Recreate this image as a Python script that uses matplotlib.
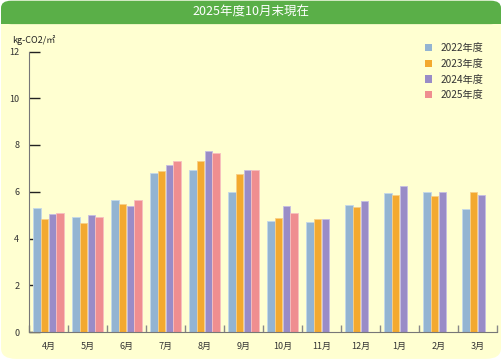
import numpy as np
import matplotlib.pyplot as plt
from matplotlib.patches import FancyBboxPatch, Rectangle

plt.rcParams['font.family'] = ['Noto Sans CJK JP', 'DejaVu Sans']

months = ["4月", "5月", "6月", "7月", "8月", "9月", "10月", "11月", "12月", "1月", "2月", "3月"]
years = ["2022年度", "2023年度", "2024年度", "2025年度"]
v2022 = [5.30, 4.93, 5.66, 6.81, 6.94, 6.00, 4.76, 4.69, 5.43, 5.96, 6.00, 5.27]
v2023 = [4.82, 4.65, 5.47, 6.90, 7.33, 6.76, 4.89, 4.83, 5.33, 5.84, 5.83, 5.99]
v2024 = [5.06, 5.00, 5.39, 7.16, 7.73, 6.93, 5.37, 4.82, 5.62, 6.23, 5.99, 5.87]
v2025 = [5.10, 4.90, 5.65, 7.33, 7.67, 6.91, 5.10, np.nan, np.nan, np.nan, np.nan, np.nan]
colors = ["#93b4d2", "#f3a92f", "#998cc7", "#ef8e90"]
edges = ["#c4d8ea", "#f8cf86", "#c6bde2", "#f6c0c0"]

BG = "#ffffd1"
GREEN = "#5aaf48"

fig = plt.figure(figsize=(5.02, 3.6), dpi=100)
fig.patch.set_facecolor("white")

# cream panel with rounded corners + green header
fig.patches.append(FancyBboxPatch((0.002, 0.003), 0.996, 0.995, boxstyle="round,pad=0,rounding_size=0.03",
                                  transform=fig.transFigure, facecolor=BG, edgecolor="none", zorder=-3))
fig.patches.append(FancyBboxPatch((0.002, 0.933), 0.996, 0.065, boxstyle="round,pad=0,rounding_size=0.02",
                                  transform=fig.transFigure, facecolor=GREEN, edgecolor="none", zorder=-2))
fig.patches.append(Rectangle((0.002, 0.933), 0.996, 0.02, transform=fig.transFigure,
                             facecolor=GREEN, edgecolor="none", zorder=-2))
fig.text(0.5, 0.966, "2025年度10月末現在", color="white", fontsize=9, ha="center", va="center")

ax = fig.add_axes([29 / 502, 28 / 360, 468 / 502, 280.5 / 360])
ax.set_facecolor("none")

x = np.arange(len(months))
w = 0.19
step = 0.195
series = [v2022, v2023, v2024, v2025]
for i, vals in enumerate(series):
    ax.bar(x - 1.5 * step + i * step, vals, width=w, color=colors[i],
           edgecolor=edges[i], linewidth=0.6, label=years[i], zorder=2)

ax.set_xlim(-0.5, 11.5)
ax.set_ylim(0, 12)
ax.set_yticks(range(0, 13, 2))
ax.tick_params(axis="y", direction="in", length=8, width=1, color="#222222",
               labelsize=6.5, pad=7, labelcolor="#333333")
ax.set_xticks(x)
ax.set_xticklabels(months)
ax.tick_params(axis="x", length=0, labelsize=6.5, pad=7, labelcolor="#333333")
ax.set_xticks(np.arange(-0.5, 12, 1), minor=True)
ax.tick_params(axis="x", which="minor", direction="in", length=5, width=1, color="#888888")

for s in ["top", "right"]:
    ax.spines[s].set_visible(False)
ax.spines["left"].set_color("#777777")
ax.spines["bottom"].set_color("#777777")

fig.text(12 / 502, 1 - 40 / 360, "kg-CO2/㎡", fontsize=6.5, va="center", ha="left", color="#222222")

leg = ax.legend(loc="upper left", bbox_to_anchor=((425 - 29) / 468, 1.029), frameon=False, fontsize=7.3,
                handlelength=0.7, handleheight=0.7, handletextpad=0.8, labelspacing=0.55,
                borderaxespad=0, borderpad=0)
for t in leg.get_texts():
    t.set_color("#333333")
for h in leg.legend_handles:
    h.set_edgecolor("none")

fig.savefig("out.png", dpi=100, facecolor=fig.get_facecolor())
